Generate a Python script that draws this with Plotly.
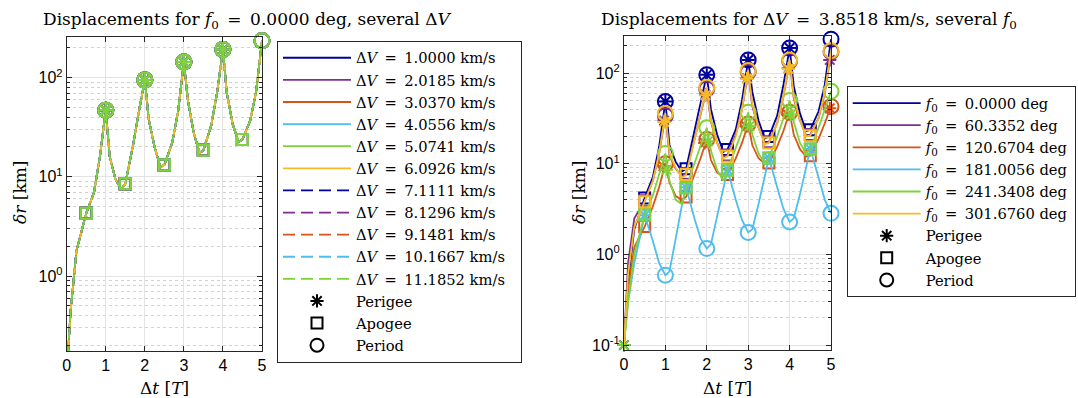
import plotly.graph_objects as go

# ---------------- data ----------------
t_line = [0, 0.1, 0.25, 0.5, 0.7, 0.85, 1.0, 1.1, 1.25, 1.4, 1.5, 1.7, 1.85, 2.0,
          2.1, 2.25, 2.4, 2.5, 2.7, 2.85, 3.0, 3.1, 3.25, 3.4, 3.5, 3.7, 3.85, 4.0,
          4.1, 4.25, 4.4, 4.5, 4.7, 4.85, 5.0]

# Left panel: f0 = 0 deg, several dV (curves coincide)
dv_labels = ["1.0000", "2.0185", "3.0370", "4.0556", "5.0741", "6.0926",
             "7.1111", "8.1296", "9.1481", "10.1667", "11.1852"]
left_dr = [0.1, 0.45, 1.8, 4.3, 7.0, 16, 47, 16, 9.4, 7.5, 8.5, 21, 46, 95,
           38, 20, 12.5, 13.2, 22, 45, 144, 60, 28, 17.5, 18.5, 33, 70, 192,
           70, 34, 22.5, 23.8, 37, 72, 236]
left_peri_t = [1, 2, 3, 4]
left_peri = [47, 95, 144, 192]
left_apo_t = [0.5, 1.5, 2.5, 3.5, 4.5]
left_apo = [4.3, 8.5, 13.2, 18.5, 23.8]
left_per_t = [1, 2, 3, 4, 5]
left_per = [47, 95, 144, 192, 236]

# Right panel: dV = 3.8518 km/s, several f0
f0_labels = ["0.0000", "60.3352", "120.6704", "181.0056", "241.3408", "301.6760"]
right_dr = [
    [0.1, 0.5, 1.9, 4.2, 7.2, 15.5, 48.7, 16, 10.5, 8.2, 8.8, 22, 47, 96, 40, 21, 13.5, 14.4,
     24, 50, 140, 62, 30, 19, 20, 34, 74, 190, 72, 36, 23, 23.8, 38, 75, 237],
    [0.1, 0.8, 2.5, 3.9, 6.6, 13, 34, 12.5, 8.8, 7.3, 7.8, 18, 36, 67, 29, 17, 12, 12.5,
     21, 40, 103, 43, 25, 17, 17.5, 28, 55, 136, 53, 30, 20.5, 21, 32, 60, 172],
    [0.1, 0.4, 1.2, 2.03, 3.4, 5.5, 10, 6.2, 4.4, 4.0, 4.3, 7.5, 11.5, 18.5, 11, 8, 7.3, 7.6,
     11.5, 17, 27.5, 16, 11.5, 10, 10.2, 15.5, 23, 37, 21, 14.5, 12, 12.3, 19, 28, 43],
    [0.1, 0.3, 0.8, 2.7, 1.4, 0.8, 0.59, 0.65, 1.5, 3.5, 5.5, 2.5, 1.5, 1.16, 1.3, 2.6, 5.5, 8.6,
     4.0, 2.4, 1.75, 1.9, 3.6, 7.5, 11.6, 5.5, 3.2, 2.28, 2.5, 4.6, 9.5, 14.6, 7.0, 4.0, 2.84],
    [0.1, 0.3, 1.0, 2.77, 4.5, 7.5, 13, 6.5, 4.0, 3.6, 5.4, 10, 16, 25, 14, 8.5, 6.5, 8.5,
     15, 23, 37, 21, 13, 10, 11.6, 20, 32, 50, 29, 17, 13, 14.6, 25, 40, 63],
    [0.1, 0.6, 2.0, 3.8, 6.5, 13, 36, 13, 9, 7, 7.6, 18, 36, 70, 30, 17, 11.5, 12.1,
     20, 40, 107, 45, 25, 16.5, 17, 28, 56, 140, 55, 30, 20, 20.4, 32, 62, 177],
]
right_peri_t = [[0, 1, 2, 3, 4], [0.97, 1.97, 2.97, 3.97, 4.97], [0.95, 1.95, 2.95, 3.95, 4.97],
                [0.5, 1.5, 2.5, 3.5, 4.5], [0, 1.03, 2.03, 3.03, 4.03], [0.97, 1.97, 2.97, 3.97]]
right_peri = [[0.1, 48.7, 96, 140, 190], [30, 58, 88, 113, 140], [9.4, 17, 26, 35, 41],
              [2.7, 5.5, 8.6, 11.6, 14.6], [0.1, 8.6, 17.7, 26, 35], [29, 57, 87, 112]]
half_t = [0.5, 1.5, 2.5, 3.5, 4.5]
right_apo = [[4.2, 8.8, 14.4, 20, 23.8], [3.9, 7.8, 12.5, 17.5, 21], [2.03, 4.3, 7.6, 10.2, 12.3],
             [2.7, 5.5, 8.6, 11.6, 14.6], [2.77, 5.4, 8.5, 11.6, 14.6], [3.8, 7.6, 12.1, 17, 20.4]]
int_t = [1, 2, 3, 4, 5]
right_per = [[48.7, 96, 140, 190, 237], [34, 67, 103, 136, 172], [10, 18.5, 27.5, 37, 43],
             [0.59, 1.16, 1.75, 2.28, 2.84], [13, 25, 37, 50, 63], [36, 70, 107, 140, 177]]

colors = ["#00009c", "#7e2f8e", "#d95319", "#4dbeee", "#7ed33a", "#f5bb22"]

# ---------------- figure ----------------
fig = go.Figure()
LW = 1.8
DASH = "12px,6px"
SERIF = "DejaVu Serif"
SANS = "Liberation Sans"
EQ = "\u2002=\u2002"
PAD_L = "\u2002\u2009"
PAD_R = "\u200a"


def add_markers(xs, ys, col, sym, size, xa, ya):
    fig.add_trace(go.Scatter(x=xs, y=ys, mode="markers", showlegend=False, cliponaxis=False,
                             marker=dict(symbol=sym, size=size, color=col,
                                         line=dict(color=col, width=2)),
                             xaxis=xa, yaxis=ya, hoverinfo="skip"))


for i, lab in enumerate(dv_labels):
    col = colors[i % 6]
    dash = "solid" if i < 6 else DASH
    fig.add_trace(go.Scatter(x=t_line, y=left_dr, mode="lines",
                             line=dict(color=col, width=LW, dash=dash),
                             name="Δ<i>V</i>%s%s km/s%s" % (EQ, lab, PAD_L), legend="legend",
                             xaxis="x", yaxis="y"))
    add_markers(left_peri_t, left_peri, col, "asterisk-open", 11, "x", "y")
    add_markers(left_apo_t, left_apo, col, "square-open", 11, "x", "y")
    add_markers(left_per_t, left_per, col, "circle-open", 15, "x", "y")

for i, lab in enumerate(f0_labels):
    col = colors[i]
    fig.add_trace(go.Scatter(x=t_line, y=right_dr[i], mode="lines",
                             line=dict(color=col, width=LW),
                             name="<i>f</i><sub>0</sub>%s%s deg%s" % (EQ, lab, PAD_R),
                             legend="legend2", xaxis="x2", yaxis="y2"))
    add_markers(right_peri_t[i], right_peri[i], col, "asterisk-open", 11, "x2", "y2")
    add_markers(half_t, right_apo[i], col, "square-open", 11, "x2", "y2")
    add_markers(int_t, right_per[i], col, "circle-open", 15, "x2", "y2")

for lg, xa, ya in (("legend", "x", "y"), ("legend2", "x2", "y2")):
    for nm, sym, sz in (("Perigee", "asterisk-open", 11), ("Apogee", "square-open", 11),
                        ("Period", "circle-open", 13)):
        fig.add_trace(go.Scatter(x=[None], y=[None], mode="markers", name=nm, legend=lg,
                                 marker=dict(symbol=sym, size=sz, color="black",
                                             line=dict(color="black", width=2)),
                                 xaxis=xa, yaxis=ya))

axcol = "#262626"
common_x = dict(range=[0, 5], tickvals=[0, 1, 2, 3, 4, 5], showline=True, linecolor=axcol,
                linewidth=1, mirror="ticks", ticks="inside", ticklen=5, tickcolor=axcol,
                showgrid=True, gridcolor="#e3e3e3", gridwidth=1, zeroline=False,
                tickfont=dict(family=SANS, size=16, color="black"))
common_y = dict(type="log", showline=True, linecolor=axcol, linewidth=1, mirror="ticks",
                ticks="inside", ticklen=5, tickcolor=axcol, showgrid=True,
                gridcolor="#e3e3e3", gridwidth=1, zeroline=False,
                tickfont=dict(family=SANS, size=16, color="black"),
                minor=dict(ticks="inside", ticklen=3, tickcolor=axcol, dtick="D1",
                           showgrid=True, gridcolor="#d2d2d2", griddash="dot", gridwidth=1))

legfont = dict(family=SERIF, size=14.7, color="black")
fig.update_layout(
    width=1078, height=398, margin=dict(l=0, r=0, t=0, b=0, autoexpand=False),
    paper_bgcolor="white", plot_bgcolor="white",
    xaxis=dict(domain=[0.0619, 0.2430], anchor="y", **common_x),
    yaxis=dict(domain=[0.1181, 0.9070], anchor="x", range=[-0.756, 2.41],
               tickvals=[1, 10, 100],
               ticktext=["10<sup>0</sup>", "10<sup>1</sup>", "10<sup>2</sup>"], **common_y),
    xaxis2=dict(domain=[0.5788, 0.7709], anchor="y2", **common_x),
    yaxis2=dict(domain=[0.1206, 0.9095], anchor="x2", range=[-1.055, 2.41],
                tickvals=[0.1, 1, 10, 100],
                ticktext=["10<sup>-1</sup>", "10<sup>0</sup>", "10<sup>1</sup>", "10<sup>2</sup>"],
                **common_y),
    legend=dict(x=277 / 1078, y=1 - 40.7 / 398, xanchor="left", yanchor="top",
                bgcolor="white", bordercolor=axcol, borderwidth=1, itemwidth=68,
                tracegroupgap=0, font=legfont),
    legend2=dict(x=846.7 / 1078, y=1 - 86 / 398, xanchor="left", yanchor="top",
                 bgcolor="white", bordercolor=axcol, borderwidth=1, itemwidth=68,
                 tracegroupgap=0, font=legfont),
    showlegend=True,
)

ann = [
    dict(text="Displacements for <i>f</i><sub>0</sub>%s0.0000 deg, several Δ<i>V</i>" % EQ,
         x=41 / 1078, y=1 - 20 / 398, xanchor="left", size=17),
    dict(text="Displacements for Δ<i>V</i>%s3.8518 km/s, several <i>f</i><sub>0</sub>" % EQ,
         x=599 / 1078, y=1 - 20 / 398, xanchor="left", size=17),
    dict(text="Δ<i>t</i> [<i>T</i>]", x=164 / 1078, y=1 - 388 / 398, xanchor="center", size=17),
    dict(text="Δ<i>t</i> [<i>T</i>]", x=727 / 1078, y=1 - 388 / 398, xanchor="center", size=17),
    dict(text="<i>δr</i> [km]", x=20 / 1078, y=1 - 193 / 398, xanchor="center", size=17,
         textangle=-90),
    dict(text="<i>δr</i> [km]", x=579 / 1078, y=1 - 193 / 398, xanchor="center", size=17,
         textangle=-90),
]
for a in ann:
    sz = a.pop("size")
    fig.add_annotation(xref="paper", yref="paper", showarrow=False,
                       yanchor="middle", font=dict(family=SERIF, size=sz, color="black"), **a)

fig.write_html("out.html")
